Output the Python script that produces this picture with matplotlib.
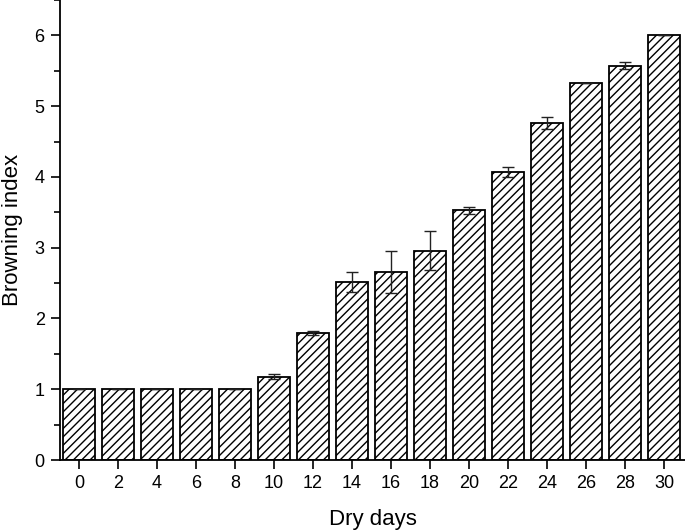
import matplotlib
matplotlib.use("Agg")
import matplotlib.pyplot as plt
from matplotlib.ticker import MultipleLocator

plt.rcParams['font.family'] = ['Liberation Sans', 'DejaVu Sans']
plt.rcParams['hatch.linewidth'] = 1.0
plt.rcParams['hatch.color'] = '#333333'

days = [0, 2, 4, 6, 8, 10, 12, 14, 16, 18, 20, 22, 24, 26, 28, 30]
browning = [1.0, 1.0, 1.0, 1.0, 1.0, 1.18, 1.79, 2.51, 2.66, 2.96, 3.53, 4.07, 4.76, 5.33, 5.57, 6.0]
errors = [0.0, 0.0, 0.0, 0.0, 0.0, 0.04, 0.03, 0.14, 0.30, 0.28, 0.05, 0.07, 0.08, 0.0, 0.05, 0.0]

fig = plt.figure(figsize=(6.85, 5.32), dpi=100)
ax = fig.add_axes([0.0876, 0.1353, 0.9124, 0.8647])

ax.bar(days, browning, width=1.64, color='white', edgecolor='black', linewidth=1.3,
       hatch='////', zorder=2)
ax.errorbar(days, browning, yerr=errors, fmt='none', ecolor='#222222', elinewidth=1.0,
            capsize=4, capthick=1.0, zorder=3)

ax.set_xlim(-0.97, 31.08)
ax.set_ylim(0, 6.5)
ax.set_xticks(days)
ax.set_yticks(range(0, 7))
ax.yaxis.set_minor_locator(MultipleLocator(0.5))

for s in ['top', 'right']:
    ax.spines[s].set_visible(False)
for s in ['left', 'bottom']:
    ax.spines[s].set_linewidth(1.3)

ax.tick_params(axis='both', which='major', direction='out', length=6.5, width=1.2, labelsize=13, pad=4.5)
ax.tick_params(axis='y', which='minor', direction='out', length=4, width=1.2)
ax.tick_params(axis='x', which='minor', bottom=False)

ax.set_xlabel('Dry days', fontsize=16, labelpad=12)
ax.set_ylabel('Browning index', fontsize=16, labelpad=8)

fig.savefig('out.png', dpi=100)
